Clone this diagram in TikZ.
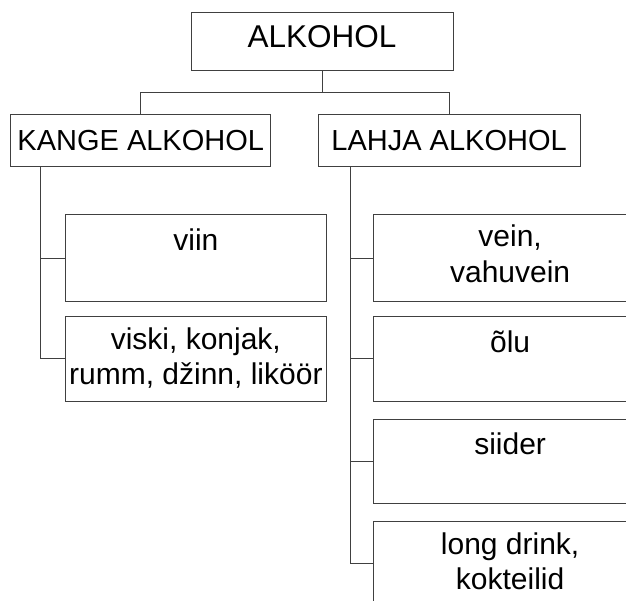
\documentclass[tikz,border=0pt]{standalone}
\usepackage{fontspec}
\setmainfont{Liberation Sans}

\tikzset{
  box/.style={draw=black!75, line width=1pt, rectangle, fill=white, inner sep=0pt},
  link/.style={draw=black!75, line width=1pt},
  headtext/.style={font=\fontsize{29}{34}\selectfont},
  itemtext/.style={font=\fontsize{30}{35.5}\selectfont, align=center, inner sep=0pt,
    anchor=north, yshift=-11.15pt, execute at begin node=\strut},
  lbox/.style={box, minimum width=260.3pt},
  rbox/.style={box, minimum width=273.7pt},
}

\begin{document}
\begin{tikzpicture}[x=1pt, y=-1pt]

% =====================
% Page frame (the lower right boxes run off the page)
% =====================
\useasboundingbox (0,0) rectangle (626,600);
\clip (0,0) rectangle (626,600);

% =====================
% Top level
% =====================
\node[box, minimum width=262pt, minimum height=57.7pt, text depth=10pt,
  font=\fontsize{31.5}{36}\selectfont] (alkohol) at (322,41.2) {ALKOHOL};

% =====================
% Second level
% =====================
\node[box, headtext, minimum width=260pt, minimum height=52.4pt] (kange) at (140.75,140.5) {KANGE ALKOHOL};
\node[box, headtext, minimum width=262pt, minimum height=52.4pt] (lahja) at (449.1,140.5) {LAHJA ALKOHOL};

% fork from the top box
\draw[link] (alkohol.south) -- ++(0,21.7) coordinate (fork) -| (kange.north);
\draw[link] (fork) -| (lahja.north);

% =====================
% Strong drinks (left column)
% =====================
\node[lbox, minimum height=87.5pt] (viin) at (195.85,258.05) {};
\node[itemtext] (viintext) at (viin.north) {viin};

\node[lbox, minimum height=84.3pt] (viski) at (195.85,358.85) {};
\node[itemtext] (viskitext) at (viski.north) {viski, konjak,\\rumm, džinn, liköör};

\coordinate (lspine) at (40.5,0);
\draw[link] (lspine |- kange.south) -- (lspine |- viski.west) -- (viski.west);
\draw[link] (lspine |- viin.west) -- (viin.west);

% =====================
% Light drinks (right column)
% =====================
\node[rbox, minimum height=87.5pt] (vein) at (510.15,258.05) {};
\node[itemtext] (veintext) at (vein.north) {vein,\\vahuvein};

\node[rbox, minimum height=84.3pt] (olu) at (510.15,358.85) {};
\node[itemtext] (olutext) at (olu.north) {õlu};

\node[rbox, minimum height=84pt] (siider) at (510.15,461) {};
\node[itemtext] (siidertext) at (siider.north) {siider};

\node[rbox, minimum height=84pt] (drink) at (510.15,563.7) {};
\node[itemtext] (drinktext) at (drink.north) {long drink,\\kokteilid};

\coordinate (rspine) at (350.7,0);
\draw[link] (rspine |- lahja.south) -- (rspine |- drink.west) -- (drink.west);
\draw[link] (rspine |- vein.west) -- (vein.west);
\draw[link] (rspine |- olu.west) -- (olu.west);
\draw[link] (rspine |- siider.west) -- (siider.west);

\end{tikzpicture}
\end{document}
